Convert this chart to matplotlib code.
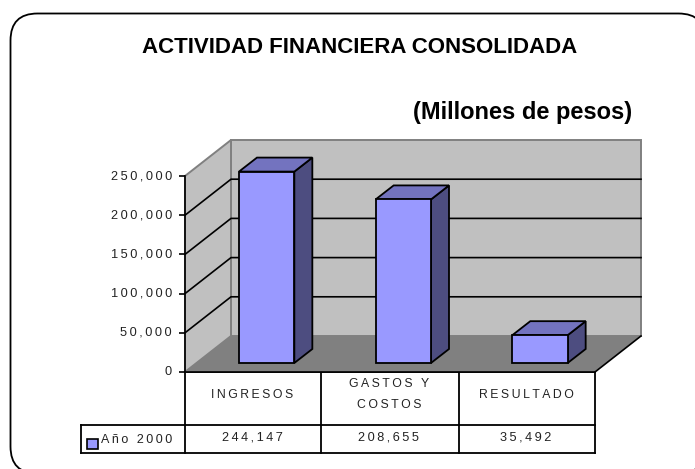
import matplotlib
matplotlib.use("Agg")
import matplotlib.pyplot as plt
from matplotlib.patches import Polygon, FancyBboxPatch, Rectangle
from matplotlib.transforms import ScaledTranslation

categories = ["INGRESOS", "GASTOS Y\nCOSTOS", "RESULTADO"]
values = [244147, 208655, 35492]
value_labels = ["244,147", "208,655", "35,492"]
series_name = "Año 2000"
yticks = [0, 50000, 100000, 150000, 200000, 250000]
ytick_labels = ["0", "50,000", "100,000", "150,000", "200,000", "250,000"]

W, H = 695, 469
THIN = "\u2009"


def spaced(s):
    # the original has wide letter spacing
    return "\n".join(THIN.join(line) for line in s.split("\n"))


plt.rcParams["font.family"] = ["Liberation Sans", "DejaVu Sans"]
fig = plt.figure(figsize=(W / 100, H / 100), dpi=100)

# page layer in pixels: frame, titles, table
page = fig.add_axes([0, 0, 1, 1])
page.set_xlim(0, W)
page.set_ylim(H, 0)
page.axis("off")

page.add_patch(FancyBboxPatch((10.5, 13.5), 695, 460, boxstyle="round,pad=0,rounding_size=27",
                              fc="white", ec="black", lw=1.3))
page.text(360, 53, "ACTIVIDAD FINANCIERA CONSOLIDADA", ha="center", va="baseline",
          fontsize=16, fontweight="bold", color="black")
page.text(523, 119, "(Millones de pesos)", ha="center", va="baseline",
          fontsize=17, fontweight="bold", color="black")

# chart layer: front plane of the 3d box
ax = fig.add_axes([185 / W, 1 - 372 / H, 410 / W, 196 / H])
ax.patch.set_visible(False)
ax.set_xlim(0, 3)
ax.set_ylim(0, 250000)
for s in ax.spines.values():
    s.set_visible(False)

dx = 46 / 410 * 3
dy = 36 / 196 * 250000
top = yticks[-1]

ax.add_patch(Polygon([(dx, dy), (3 + dx, dy), (3 + dx, top + dy), (dx, top + dy)],
                     fc="#C0C0C0", ec="#808080", lw=1.4, clip_on=False, zorder=1))
ax.add_patch(Polygon([(0, 0), (dx, dy), (dx, top + dy), (0, top)],
                     fc="#C0C0C0", ec="#808080", lw=1.4, clip_on=False, zorder=1))
ax.add_patch(Polygon([(0, 0), (3, 0), (3 + dx, dy), (dx, dy)],
                     fc="#808080", ec="none", clip_on=False, zorder=1))
ax.plot([3, 3 + dx], [0, dy], color="black", lw=1.2, clip_on=False, zorder=2)

for t in yticks[1:-1]:
    ax.plot([0, dx, 3 + dx], [t, t + dy, t + dy], color="black", lw=1.2,
            clip_on=False, zorder=2)

# bars
bar_start = 0.395
bar_w = 0.405
bar_base = 9 / 196 * 250000
bar_dx = 18 / 410 * 3
bar_dy = 14 / 196 * 250000
for i, v in enumerate(values):
    x0 = i + bar_start
    x1 = x0 + bar_w
    y0 = bar_base
    y1 = bar_base + v
    ax.add_patch(Polygon([(x1, y0), (x1 + bar_dx, y0 + bar_dy), (x1 + bar_dx, y1 + bar_dy), (x1, y1)],
                         fc="#4D4D80", ec="black", lw=1.3, clip_on=False, zorder=3))
    ax.add_patch(Polygon([(x0, y1), (x1, y1), (x1 + bar_dx, y1 + bar_dy), (x0 + bar_dx, y1 + bar_dy)],
                         fc="#7373BF", ec="black", lw=1.3, clip_on=False, zorder=3))
    ax.add_patch(Polygon([(x0, y0), (x1, y0), (x1, y1), (x0, y1)],
                         fc="#9999FF", ec="black", lw=1.3, clip_on=False, zorder=4))

ax.spines["left"].set_visible(True)
ax.spines["left"].set_linewidth(1.2)
ax.spines["bottom"].set_visible(True)
ax.spines["bottom"].set_linewidth(1.2)
ax.spines["left"].set_zorder(5)
ax.spines["bottom"].set_zorder(5)
ax.set_xticks([])
ax.set_yticks(yticks)
ax.set_yticklabels([spaced(t) for t in ytick_labels], fontsize=9.2, color="#222222")
ax.tick_params(axis="y", length=4.4, width=1.2, pad=5)
# labels sit a little above their ticks in the original
up = ScaledTranslation(0, 1.5 / 100, fig.dpi_scale_trans)
for lab in ax.get_yticklabels():
    lab.set_transform(lab.get_transform() + up)

# data table below the plot
col_edges = [185, 321, 459, 595]
row_edges = [372, 425, 453]
table_lw = 1.3
for x in col_edges:
    page.plot([x, x], [row_edges[0], row_edges[2]], color="black", lw=table_lw)
for y in row_edges[1:]:
    page.plot([81, 595], [y, y], color="black", lw=table_lw)
page.plot([185, 595], [372, 372], color="black", lw=table_lw)
page.plot([81, 81], [row_edges[1], row_edges[2]], color="black", lw=table_lw)

for i, cat in enumerate(categories):
    cx = (col_edges[i] + col_edges[i + 1]) / 2 - 1
    page.text(cx, 394.5, spaced(cat), ha="center", va="center", fontsize=8.8,
              color="#222222", linespacing=1.95)
    page.text(cx, 438, spaced(value_labels[i]), ha="center", va="center", fontsize=9.2,
              color="#222222")

page.add_patch(Rectangle((87, 439), 10.5, 10, fc="#9999FF", ec="black", lw=1.2))
page.text(101, 440, spaced(series_name), ha="left", va="center", fontsize=9, color="#222222")

fig.savefig("out.png", dpi=100)
